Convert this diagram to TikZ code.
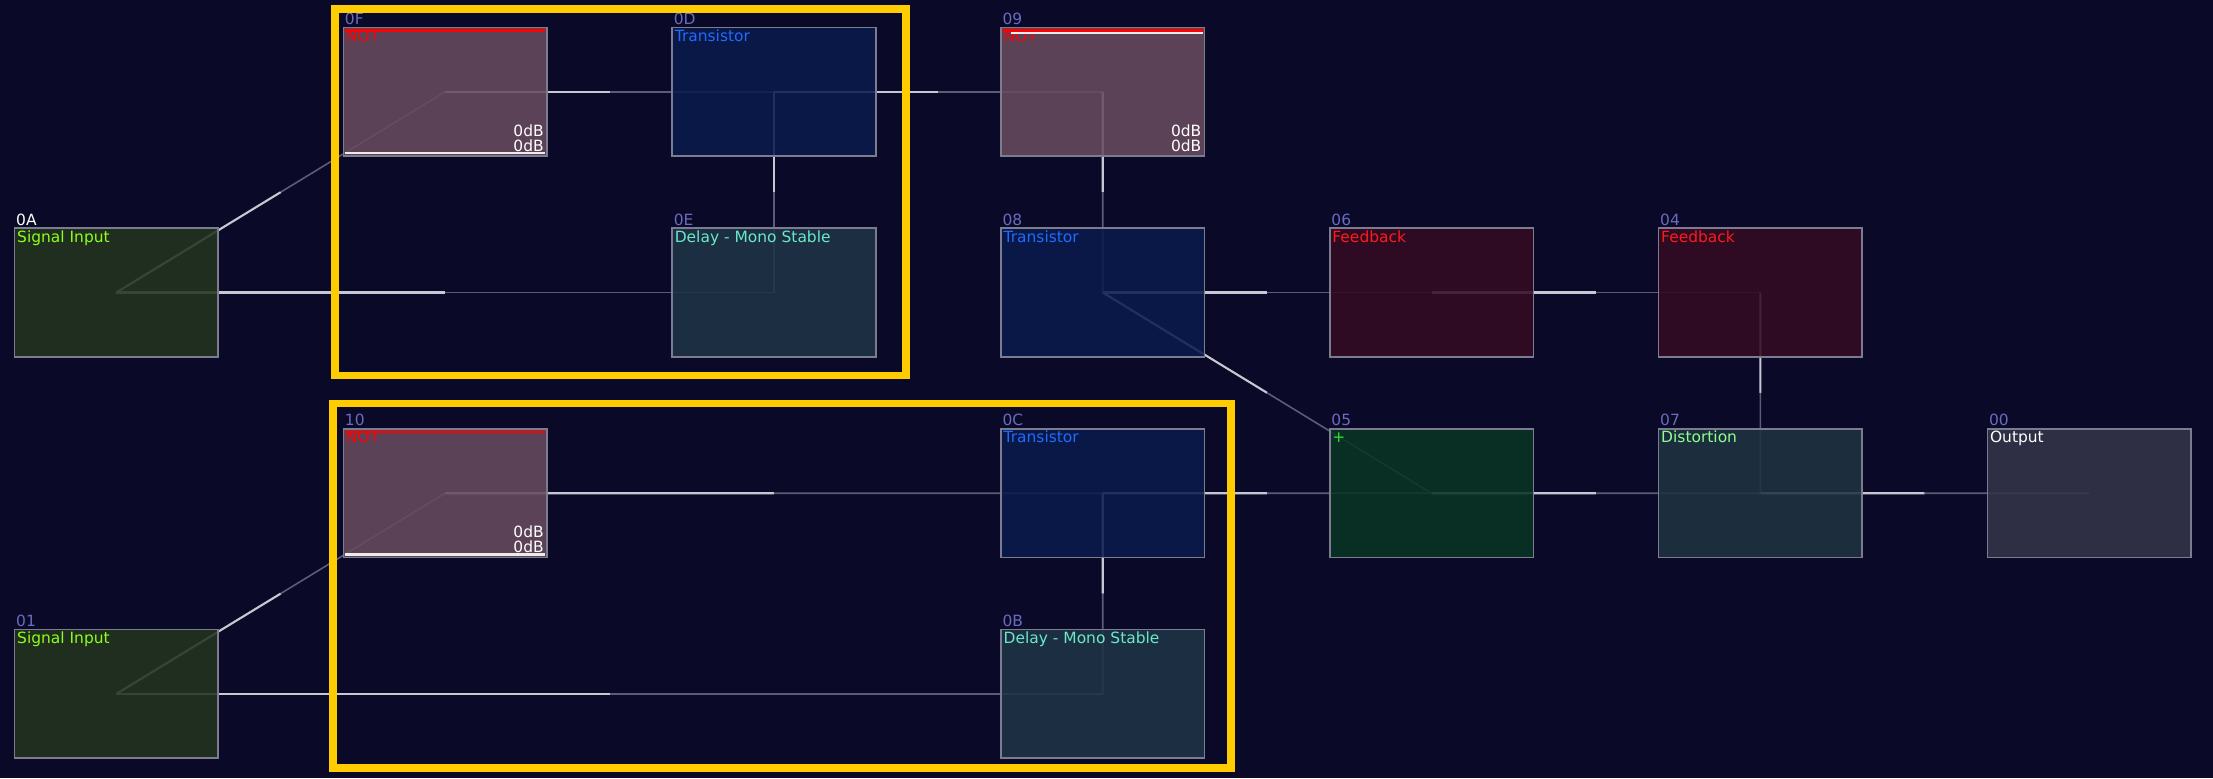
\documentclass[tikz,border=0pt]{standalone}
\usepackage{fontspec}
\setmainfont{DejaVu Sans}
\usetikzlibrary{calc}

\definecolor{bg}{HTML}{0A0A28}
\definecolor{boxline}{HTML}{7C7C90}
\definecolor{idcol}{HTML}{6A6AC0}
\definecolor{notfill}{HTML}{684A5E}
\definecolor{notred}{HTML}{FF0000}
\definecolor{transfill}{HTML}{0A1B4C}
\definecolor{transblue}{HTML}{1F6BFF}
\definecolor{sigfill}{HTML}{24341F}
\definecolor{siggreen}{HTML}{8CFF1A}
\definecolor{delayfill}{HTML}{1F3445}
\definecolor{delaycyan}{HTML}{6AE8C8}
\definecolor{fbfill}{HTML}{350A23}
\definecolor{fbred}{HTML}{FF1A1A}
\definecolor{addfill}{HTML}{093524}
\definecolor{addgreen}{HTML}{33DD33}
\definecolor{distfill}{HTML}{1F3441}
\definecolor{distgreen}{HTML}{8CFF8C}
\definecolor{outfill}{HTML}{34344A}
\definecolor{wirebright}{HTML}{C8C8D4}
\definecolor{wiredim}{HTML}{5C5C78}
\definecolor{gold}{HTML}{FFCC00}

\pgfdeclarelayer{back}
\pgfdeclarelayer{wires}
\pgfsetlayers{back,wires,main}

\tikzset{
    module/.style={draw=boxline, line width=0.45pt, fill opacity=0.88,
        minimum width=2.035cm, minimum height=1.285cm, inner sep=0pt, outer sep=0pt},
    idlab/.style={anchor=base west, inner sep=0pt, font=\fontsize{4.4}{5}\selectfont},
    title/.style={anchor=base west, inner sep=0pt, font=\fontsize{4.4}{5}\selectfont},
    db/.style={text=white, anchor=base east, inner sep=0pt, font=\fontsize{4.4}{5}\selectfont},
    wirehi/.style={draw=wirebright, line width=0.6pt},
    wirelo/.style={draw=wiredim, line width=0.45pt},
    frame/.style={draw=gold, line width=2.1pt},
    notbar/.style={draw=notred, line width=0.7pt},
    meter/.style={draw=white!85!gray, line width=0.6pt},
}

% bright half next to the source, dim half next to the target
\newcommand{\wire}[2]{%
    \draw[wirehi] (#1.center) -- ($(#1.center)!0.5!(#2.center)$);
    \draw[wirelo] ($(#1.center)!0.5!(#2.center)$) -- (#2.center);}

\begin{document}
\begin{tikzpicture}[x=0.01cm, y=-0.01cm]
    \useasboundingbox (0,0) rectangle (2213,778);
    \begin{pgfonlayer}{back}
        \fill[bg] (0,0) rectangle (2213,778);
    \end{pgfonlayer}

    % Modules on a grid
    \foreach \id/\i/\j/\fc/\tc/\ic/\title in {
        0F/1/0/notfill/notred/idcol/NOT,
        0D/2/0/transfill/transblue/idcol/Transistor,
        09/3/0/notfill/notred/idcol/NOT,
        0A/0/1/sigfill/siggreen/white/Signal Input,
        0E/2/1/delayfill/delaycyan/idcol/Delay - Mono Stable,
        08/3/1/transfill/transblue/idcol/Transistor,
        06/4/1/fbfill/fbred/idcol/Feedback,
        04/5/1/fbfill/fbred/idcol/Feedback,
        10/1/2/notfill/notred/idcol/NOT,
        0C/3/2/transfill/transblue/idcol/Transistor,
        05/4/2/addfill/addgreen/idcol/+,
        07/5/2/distfill/distgreen/idcol/Distortion,
        00/6/2/outfill/white/idcol/Output,
        01/0/3/sigfill/siggreen/idcol/Signal Input,
        0B/3/3/delayfill/delaycyan/idcol/Delay - Mono Stable} {
        \node[module, fill=\fc] (m\id) at (116.3+328.8*\i, 91.8+200.7*\j) {};
        \node[idlab, text=\ic] (l\id) at ($(m\id.north west)+(1,-3)$) {\id};
        \node[title, text=\tc] (t\id) at ($(m\id.north west)+(2,14)$) {\title};
    }

    % NOT level bars and volumes
    \foreach \id in {0F,10} {
        \draw[notbar] ($(m\id.north west)+(2,3)$) -- ($(m\id.north east)+(-2,3)$);
        \draw[meter] ($(m\id.south west)+(2,-3)$) -- ($(m\id.south east)+(-2,-3)$);
    }
    \draw[notbar] ($(m09.north west)+(2,3)$) -- ($(m09.north east)+(-2,3)$);
    \draw[meter] ($(m09.north west)+(10,5.5)$) -- ($(m09.north east)+(-2,5.5)$);
    \foreach \id in {0F,09,10} {
        \node[db] (da\id) at ($(m\id.north east)+(-2.5,108.5)$) {0dB};
        \node[db] (db\id) at ($(m\id.north east)+(-2.5,123.5)$) {0dB};
    }

    % Links
    \begin{pgfonlayer}{wires}
        \wire{m0A}{m0F}
        \wire{m0A}{m0E}
        \wire{m0F}{m0D}
        \wire{m0D}{m09}
        \wire{m0D}{m0E}
        \wire{m09}{m08}
        \wire{m08}{m06}
        \wire{m08}{m05}
        \wire{m06}{m04}
        \wire{m04}{m07}
        \wire{m05}{m07}
        \wire{m07}{m00}
        \wire{m0C}{m05}
        \wire{m10}{m0C}
        \wire{m01}{m10}
        \wire{m01}{m0B}
        \wire{m0C}{m0B}
    \end{pgfonlayer}

    % Highlight frames
    \draw[frame] (335,9) rectangle (906,375.3);
    \draw[frame] (333,403.3) rectangle (1231,768);
\end{tikzpicture}
\end{document}
